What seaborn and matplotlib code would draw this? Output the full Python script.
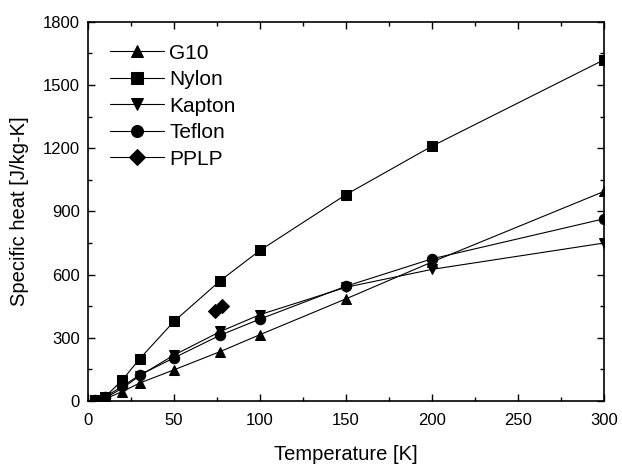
import pandas as pd
import numpy as np
import matplotlib.pyplot as plt
import seaborn as sns
from matplotlib.ticker import MultipleLocator

# --- DATA ---
temp_main = [4, 10, 20, 30, 50, 77, 100, 150, 200, 300]
g10 = [2, 10, 45, 85, 148, 235, 315, 485, 660, 995]
nylon = [3, 20, 100, 200, 378, 572, 715, 980, 1210, 1620]
kapton = [2, 15, 60, 120, 218, 330, 410, 540, 625, 750]
teflon = [3, 20, 70, 123, 205, 313, 389, 545, 675, 865]
temp_pplp = [74, 78]
pplp = [425, 450]

series_names = ['G10', 'Nylon', 'Kapton', 'Teflon', 'PPLP']
series_markers = ['^', 's', 'v', 'o', 'D']

rows = []
for name, vals in zip(series_names[:4], [g10, nylon, kapton, teflon]):
    for t, v in zip(temp_main, vals):
        rows.append((name, t, v))
for t, v in zip(temp_pplp, pplp):
    rows.append(('PPLP', t, v))
df = pd.DataFrame(rows, columns=['Material', 'Temperature', 'Cp'])

sns.set_style('ticks', {'axes.edgecolor': 'black', 'text.color': 'black',
                        'axes.labelcolor': 'black', 'xtick.color': 'black',
                        'ytick.color': 'black'})
plt.rcParams['font.family'] = ['Liberation Sans', 'DejaVu Sans']

fig = plt.figure(figsize=(6.22, 4.66), dpi=100)
ax = fig.add_axes([0.1415, 0.1395, 0.8295, 0.8135])

sns.lineplot(data=df, x='Temperature', y='Cp', hue='Material', style='Material',
             hue_order=series_names, style_order=series_names,
             palette=['black'] * 5, markers=dict(zip(series_names, series_markers)),
             dashes=False, markersize=7.5, linewidth=0.8, markeredgecolor='black',
             sort=True, ax=ax)

ax.set_xlim(0, 300)
ax.set_ylim(0, 1800)
ax.xaxis.set_major_locator(MultipleLocator(50))
ax.xaxis.set_minor_locator(MultipleLocator(25))
ax.yaxis.set_major_locator(MultipleLocator(300))
ax.yaxis.set_minor_locator(MultipleLocator(150))
ax.tick_params(which='both', direction='in', top=True, right=True, labelsize=12)
ax.tick_params(axis='x', which='major', pad=9)
ax.tick_params(axis='y', which='major', pad=6)
ax.tick_params(which='major', length=5, width=1)
ax.tick_params(which='minor', length=3, width=1)
for s in ax.spines.values():
    s.set_linewidth(1.2)
    s.set_visible(True)

ax.set_xlabel('Temperature [K]', fontsize=14.5, labelpad=12)
ax.set_ylabel('Specific heat [J/kg-K]', fontsize=14.5, labelpad=10)

leg = ax.legend(loc='upper left', frameon=False, fontsize=15, handlelength=2.6,
                labelspacing=0.36, borderaxespad=0.5, borderpad=0.55,
                handletextpad=0.25, markerscale=1.15)

fig.savefig('out.png', dpi=100)
